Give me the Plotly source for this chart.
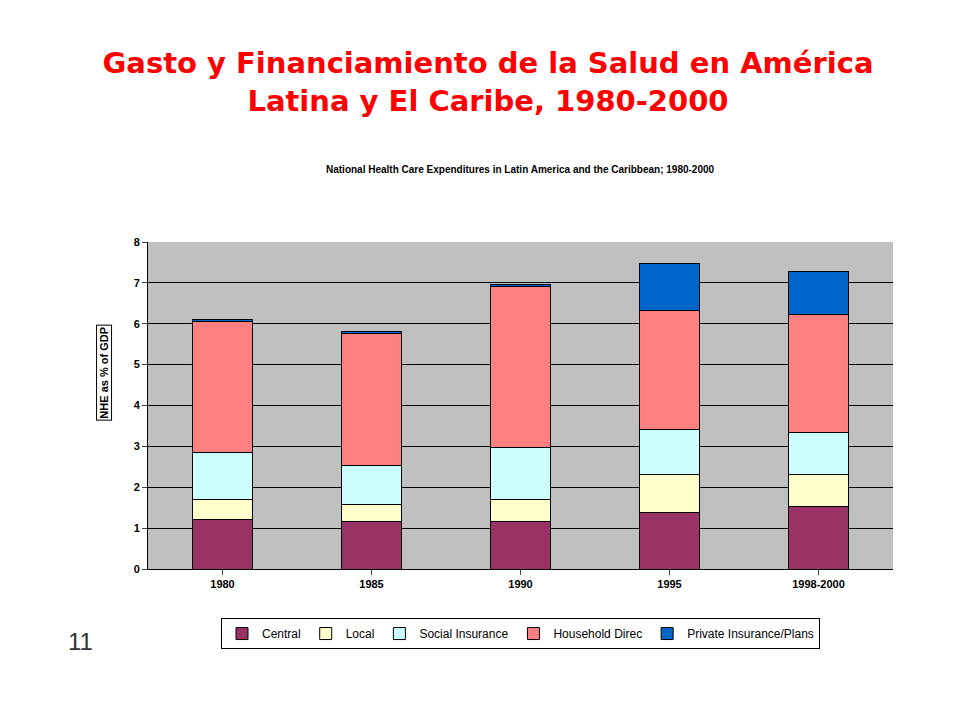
import plotly.graph_objects as go

# data (NHE as % of GDP)
years = ["1980", "1985", "1990", "1995", "1998-2000"]
central = [1.22, 1.15, 1.15, 1.39, 1.52]
local = [0.47, 0.44, 0.56, 0.93, 0.78]
social = [1.17, 0.95, 1.27, 1.10, 1.05]
household = [3.20, 3.21, 3.94, 2.91, 2.88]
private = [0.05, 0.05, 0.05, 1.15, 1.06]

series = [
    ("Central", central, "#993366"),
    ("Local", local, "#FFFFCC"),
    ("Social Insurance", social, "#CCFFFF"),
    ("Household Direc", household, "#FF8080"),
    ("Private Insurance/Plans", private, "#0066CC"),
]

fig = go.Figure()
for name, vals, col in series:
    fig.add_trace(go.Bar(x=years, y=vals, name=name, marker_color=col,
                         marker_line_color="black", marker_line_width=1, width=0.4))

fig.update_layout(
    barmode="stack",
    width=960, height=720,
    paper_bgcolor="white",
    plot_bgcolor="#C0C0C0",
    margin=dict(l=140, r=75, t=234, b=159),
    font=dict(family="Liberation Sans, Arial", color="black", size=11),
    title=dict(text="<b>Gasto y Financiamiento de la Salud en América<br>Latina y El Caribe, 1980-2000</b>",
               x=0.5, y=0.91, xanchor="center", yanchor="middle",
               font=dict(size=29, color="#FF0000", family="DejaVu Sans, Arial")),
    xaxis=dict(showline=True, linecolor="black", ticks="outside",
               tickfont=dict(size=11), tickprefix="<b>", ticksuffix="</b>"),
    yaxis=dict(range=[0, 8], dtick=1, showgrid=True, gridcolor="black", gridwidth=1,
               showline=True, linecolor="black", ticks="outside", tickprefix="<b>", ticksuffix="</b>",
               zeroline=False),
    legend=dict(orientation="h", x=0.5, xanchor="center", y=-0.15, yanchor="top",
                traceorder="normal", bordercolor="black", borderwidth=1,
                font=dict(size=12), itemwidth=30),
    showlegend=True,
)

fig.add_annotation(text="<b>National Health Care Expenditures in Latin America and the Caribbean; 1980-2000</b>",
                   xref="paper", yref="paper", x=0.5, y=1.245, showarrow=False, font=dict(size=10))
fig.add_annotation(text="<b>NHE as % of GDP</b>", xref="paper", yref="paper", x=-0.07, y=0.6,
                   textangle=-90, showarrow=False, font=dict(size=11),
                   bordercolor="black", borderwidth=1)
fig.add_annotation(text="11", xref="paper", yref="paper", x=-0.11, y=-0.27, showarrow=False,
                   font=dict(size=24, color="#333333"))

fig.write_html("out.html")
